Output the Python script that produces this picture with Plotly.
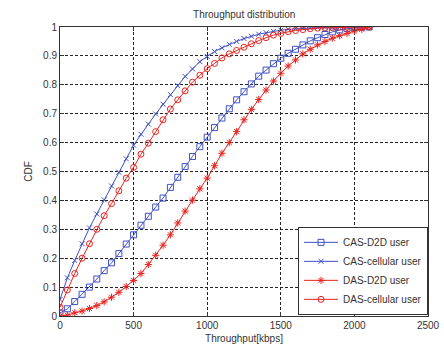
import plotly.graph_objects as go

throughput = [0, 50, 100, 150, 200, 250, 300, 350, 400, 450, 500, 550, 600, 650, 700,
              750, 800, 850, 900, 950, 1000, 1050, 1100, 1150, 1200, 1250, 1300, 1350,
              1400, 1450, 1500, 1550, 1600, 1650, 1700, 1750, 1800, 1850, 1900, 1950,
              2000, 2050, 2100]

cas_d2d = [0.01, 0.025, 0.05, 0.075, 0.10, 0.128, 0.157, 0.184, 0.216, 0.249, 0.281,
           0.314, 0.345, 0.377, 0.408, 0.445, 0.48, 0.517, 0.552, 0.586, 0.619, 0.652,
           0.685, 0.717, 0.748, 0.776, 0.803, 0.83, 0.851, 0.873, 0.892, 0.909, 0.923,
           0.938, 0.952, 0.963, 0.974, 0.983, 0.99, 0.995, 0.998, 0.999, 1.0]

cas_cell = [0.057, 0.132, 0.192, 0.25, 0.305, 0.353, 0.402, 0.45, 0.497, 0.544, 0.591,
            0.629, 0.664, 0.699, 0.733, 0.766, 0.797, 0.829, 0.855, 0.88, 0.898, 0.915,
            0.928, 0.94, 0.95, 0.96, 0.968, 0.975, 0.98, 0.985, 0.989, 0.992, 0.994,
            0.996, 0.997, 0.998, 0.999, 0.999, 0.999, 1.0, 1.0, 1.0, 1.0]

das_d2d = [0.0, 0.003, 0.011, 0.017, 0.026, 0.036, 0.049, 0.065, 0.082, 0.102, 0.123,
           0.147, 0.178, 0.21, 0.245, 0.281, 0.322, 0.363, 0.401, 0.44, 0.477, 0.52,
           0.563, 0.60, 0.638, 0.679, 0.715, 0.749, 0.782, 0.813, 0.84, 0.865, 0.886,
           0.907, 0.923, 0.938, 0.95, 0.961, 0.97, 0.978, 0.986, 0.992, 1.0]

das_cell = [0.03, 0.09, 0.147, 0.20, 0.25, 0.30, 0.347, 0.389, 0.433, 0.477, 0.514,
            0.56, 0.598, 0.638, 0.679, 0.716, 0.748, 0.779, 0.809, 0.833, 0.856, 0.874,
            0.893, 0.907, 0.919, 0.93, 0.942, 0.953, 0.963, 0.972, 0.978, 0.984, 0.988,
            0.991, 0.994, 0.996, 0.997, 0.998, 0.999, 0.999, 1.0, 1.0, 1.0]

x_ticks = [0, 500, 1000, 1500, 2000, 2500]
y_ticks = [0, 0.1, 0.2, 0.3, 0.4, 0.5, 0.6, 0.7, 0.8, 0.9, 1]
y_tick_labels = ["0", "0.1", "0.2", "0.3", "0.4", "0.5", "0.6", "0.7", "0.8", "0.9", "1"]

BLUE = "#3f50c4"
RED = "#e8231f"

series = [
    ("CAS-D2D user", cas_d2d, BLUE, "square-open", 6),
    ("CAS-cellular user", cas_cell, BLUE, "x-thin-open", 5),
    ("DAS-D2D user", das_d2d, RED, "asterisk-open", 6),
    ("DAS-cellular user", das_cell, RED, "circle-open", 6),
]

fig = go.Figure()
for name, vals, col, sym, sz in series:
    fig.add_trace(go.Scatter(
        x=throughput, y=vals, name=name, mode="lines+markers",
        line=dict(color=col, width=1),
        marker=dict(symbol=sym, size=sz, color=col, line=dict(color=col, width=1)),
    ))

font_family = "Liberation Sans, Arial, sans-serif"
axis_common = dict(
    showline=True, linecolor="#333333", linewidth=1, mirror="allticks",
    ticks="inside", ticklen=4, tickcolor="#333333",
    showgrid=True, gridcolor="#222222", gridwidth=1, griddash="3px,2px",
    zeroline=False, tickfont=dict(size=10, color="#333333", family=font_family),
    automargin=False,
)

fig.update_layout(
    width=444, height=349,
    margin=dict(l=60, r=16, t=27, b=33),
    paper_bgcolor="white", plot_bgcolor="white",
    font=dict(family=font_family, size=10, color="#333333"),
    title=dict(text="Throughput distribution", x=0.55, xanchor="center",
               y=1 - 14 / 349, yanchor="middle", font=dict(size=10)),
    xaxis=dict(range=[0, 2500], tickvals=x_ticks, title=dict(text="Throughput[kbps]", standoff=4,
               font=dict(size=10)), **axis_common),
    yaxis=dict(range=[0, 1], tickvals=y_ticks, ticktext=y_tick_labels,
               title=dict(text="CDF", standoff=8, font=dict(size=10)), **axis_common),
    legend=dict(x=1.0, xanchor="right", y=0.004, yanchor="bottom",
                bgcolor="white", bordercolor="#333333", borderwidth=1,
                font=dict(size=10), tracegroupgap=0, itemwidth=34),
    showlegend=True,
)

fig.write_html("out.html")
